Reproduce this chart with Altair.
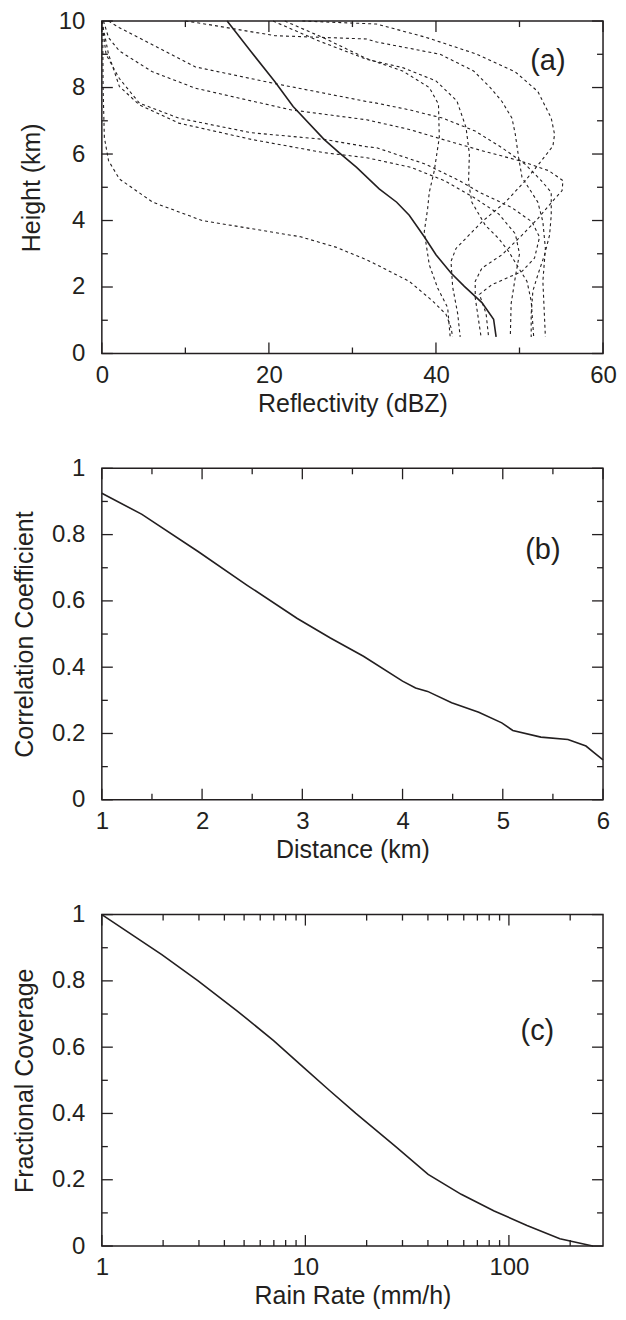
import altair as alt
import pandas as pd

FONT = "Liberation Sans"
INK = "#231f20"
W = 502
HA, HB, HC = 333, 332, 332

# ---------------- Panel (a): reflectivity profiles ----------------
solid_h = [10.0, 9.1, 8.18, 7.43, 6.44, 6.04, 5.6, 4.95, 4.55, 4.16, 3.51, 2.97, 2.42, 2.02, 1.53, 1.03, 0.5]
solid_z = [15.0, 17.8, 20.7, 22.9, 26.6, 28.4, 30.5, 33.2, 35.3, 36.8, 38.6, 40.0, 41.8, 43.4, 45.5, 46.9, 47.2]

A_h = [10.0, 9.96, 9.56, 9.46, 9.37, 9.0, 8.5, 8.0, 7.58, 7.08, 6.59, 5.89, 5.3, 4.55, 3.96, 3.16, 2.17, 0.5]
A_z = [10.0, 11.2, 20.7, 31.7, 32.9, 40.5, 44.5, 46.5, 47.9, 49.1, 49.5, 49.9, 50.3, 52.2, 52.8, 53.1, 52.8, 53.1]

B_h = [10.0, 9.5, 8.87, 8.5, 8.0, 7.5, 6.5, 5.5, 4.85, 4.35, 3.66, 2.67, 1.97, 1.38, 0.5]
B_z = [21.9, 26.5, 31.7, 36.0, 39.2, 40.3, 40.4, 39.8, 39.2, 39.0, 38.6, 39.2, 40.2, 41.4, 41.7]

B2_h = [10.0, 9.4, 8.85, 8.6, 8.2, 7.6, 6.8, 6.0, 5.15, 4.55, 3.86, 3.46, 3.07, 2.57, 2.17, 1.58, 0.5]
B2_z = [20.5, 26.0, 31.7, 36.0, 40.0, 42.5, 43.6, 44.0, 43.9, 44.3, 45.9, 47.5, 48.7, 49.9, 50.9, 51.4, 51.7]

H_h = [10.0, 9.95, 9.91, 9.51, 9.02, 8.47, 7.88, 7.08, 6.59, 6.24, 5.79, 5.2, 4.55, 3.96, 3.16, 2.77, 2.0, 1.2, 0.5]
H_z = [24.0, 29.0, 32.9, 38.8, 44.7, 49.5, 52.2, 53.8, 54.2, 54.0, 52.6, 50.7, 48.3, 45.5, 42.4, 41.8, 42.0, 42.6, 42.9]

C_h = [10.0, 9.8, 8.62, 8.12, 7.58, 7.53, 7.33, 7.08, 6.69, 6.19, 5.69, 5.2, 4.85, 4.16, 3.56, 2.97, 2.37, 1.88, 1.18, 0.5]
C_z = [0.8, 2.1, 11.2, 20.7, 31.7, 32.9, 36.8, 40.8, 44.7, 47.9, 50.7, 52.6, 53.8, 53.8, 53.6, 53.0, 52.2, 51.6, 51.4, 51.4]

D_h = [10.0, 9.5, 9.1, 8.48, 7.98, 7.33, 7.03, 6.74, 6.44, 6.1, 5.8, 5.5, 5.2, 4.9, 4.65, 4.06, 3.56, 2.97, 2.57, 2.17, 1.68, 0.5]
D_z = [0.2, 0.8, 2.1, 6.0, 11.2, 22.6, 31.7, 36.8, 40.8, 45.5, 50.0, 53.5, 55.2, 55.1, 54.2, 52.2, 50.3, 47.9, 45.5, 44.7, 44.7, 45.4]

E_h = [10.0, 9.0, 8.27, 7.53, 7.08, 6.64, 6.44, 6.22, 6.19, 5.69, 5.2, 4.85, 4.4, 3.96, 3.5, 2.87, 2.47, 2.07, 1.78, 1.2, 0.5]
E_z = [0.0, 0.5, 2.1, 4.5, 9.2, 17.9, 26.6, 31.7, 32.9, 38.8, 42.8, 45.2, 49.0, 51.5, 52.4, 51.8, 50.3, 46.7, 45.2, 46.0, 46.3]

F_h = [10.0, 9.0, 8.03, 7.48, 6.93, 6.44, 6.04, 5.89, 5.6, 5.2, 4.7, 4.2, 3.6, 3.0, 2.3, 1.5, 0.5]
F_z = [0.0, 0.8, 2.1, 4.5, 9.2, 17.9, 26.6, 31.7, 37.0, 41.0, 44.5, 47.5, 49.5, 50.0, 49.5, 49.0, 48.9]

G_h = [10.0, 8.0, 6.5, 5.8, 5.25, 4.55, 4.0, 3.51, 3.2, 2.82, 2.67, 2.17, 1.58, 1.18, 0.78, 0.5]
G_z = [0.1, 0.15, 0.3, 0.8, 2.1, 6.1, 12.0, 23.8, 28.0, 31.7, 32.9, 36.8, 39.6, 41.2, 41.8, 42.0]

# ---------------- Panel (b): correlation vs distance ----------------
dist_km = [1.0, 1.40, 1.96, 2.45, 2.95, 3.28, 3.61, 4.0, 4.13, 4.25, 4.49, 4.76, 4.99, 5.10, 5.38, 5.65, 5.83, 5.91, 6.0]
corr = [0.925, 0.861, 0.749, 0.647, 0.547, 0.488, 0.433, 0.358, 0.337, 0.327, 0.293, 0.264, 0.232, 0.209, 0.189, 0.182, 0.162, 0.142, 0.12]

# ---------------- Panel (c): fractional coverage vs rain rate ----------------
rain_rate = [1.0, 1.97, 2.96, 4.63, 6.98, 9.76, 13.1, 17.7, 27.7, 40.1, 58.3, 84.6, 122.7, 178.0, 258.0]
frac_cov = [1.0, 0.879, 0.801, 0.709, 0.620, 0.540, 0.470, 0.400, 0.301, 0.216, 0.156, 0.106, 0.062, 0.022, 0.0]

# tick values
a_x_major, a_x_minor = [0, 20, 40, 60], [10, 30, 50]
a_y_major, a_y_minor = [0, 2, 4, 6, 8, 10], [1, 3, 5, 7, 9]
b_x_major, b_x_minor = [1, 2, 3, 4, 5, 6], [1.5, 2.5, 3.5, 4.5, 5.5]
f_major, f_minor = [0, 0.2, 0.4, 0.6, 0.8, 1.0], [0.1, 0.3, 0.5, 0.7, 0.9]
c_x_major = [1, 10, 100]
c_x_minor = [2, 3, 4, 5, 6, 7, 8, 9, 20, 30, 40, 50, 60, 70, 80, 90, 200]

MAJ, MIN = 11, 6


def frame_ticks(xs, ys, xa, ya, xmaj, xmin, ymaj, ymin, ph):
    layers = []
    for vals, L in ((xmaj, MAJ), (xmin, MIN)):
        base = alt.Chart(pd.DataFrame({"v": vals})).mark_rule(color=INK, strokeWidth=1.3)
        xe = alt.X("v:Q", scale=xs, axis=xa)
        layers.append(base.encode(x=xe, y=alt.value(ph), y2=alt.value(ph - L)))
        layers.append(base.encode(x=xe, y=alt.value(0), y2=alt.value(L)))
    for vals, L in ((ymaj, MAJ), (ymin, MIN)):
        base = alt.Chart(pd.DataFrame({"v": vals})).mark_rule(color=INK, strokeWidth=1.3)
        ye = alt.Y("v:Q", scale=ys, axis=ya)
        layers.append(base.encode(y=ye, x=alt.value(0), x2=alt.value(L)))
        layers.append(base.encode(y=ye, x=alt.value(W), x2=alt.value(W - L)))
    return layers


def panel_label(xs, ys, xa, ya, xv, yv, text):
    df = pd.DataFrame({"x": [xv], "y": [yv], "t": [text]})
    return alt.Chart(df).mark_text(font=FONT, fontSize=29, color=INK).encode(
        x=alt.X("x:Q", scale=xs, axis=xa), y=alt.Y("y:Q", scale=ys, axis=ya), text="t:N")


# ---- panel (a)
xs_a = alt.Scale(domain=[0, 60], nice=False, zero=False)
ys_a = alt.Scale(domain=[0, 10], nice=False, zero=False)
xa_a = alt.Axis(values=a_x_major, title="Reflectivity (dBZ)", format="d")
ya_a = alt.Axis(values=a_y_major, title="Height (km)", format="d")

profiles = {"A": (A_h, A_z), "B": (B_h, B_z), "B2": (B2_h, B2_z), "H": (H_h, H_z),
            "C": (C_h, C_z), "D": (D_h, D_z), "E": (E_h, E_z), "F": (F_h, F_z), "G": (G_h, G_z)}
rows = []
for name, (hh, zz) in profiles.items():
    for i, (h, z) in enumerate(zip(hh, zz)):
        rows.append({"prof": name, "idx": i, "h": h, "dbz": z})
dash_df = pd.DataFrame(rows)
solid_df = pd.DataFrame({"h": solid_h, "dbz": solid_z, "idx": list(range(len(solid_h)))})

solid_a = alt.Chart(solid_df).mark_line(color=INK, strokeWidth=1.6).encode(
    x=alt.X("dbz:Q", scale=xs_a, axis=xa_a),
    y=alt.Y("h:Q", scale=ys_a, axis=ya_a),
    order="idx:Q")
dash_a = alt.Chart(dash_df).mark_line(color=INK, strokeWidth=1.1, strokeDash=[3, 3]).encode(
    x=alt.X("dbz:Q", scale=xs_a, axis=xa_a), y=alt.Y("h:Q", scale=ys_a, axis=ya_a),
    detail="prof:N", order="idx:Q")

pa = alt.layer(solid_a, dash_a, panel_label(xs_a, ys_a, xa_a, ya_a, 53.4, 8.8, "(a)"),
               *frame_ticks(xs_a, ys_a, xa_a, ya_a, a_x_major, a_x_minor, a_y_major, a_y_minor, HA)
               ).properties(width=W, height=HA)

# ---- panel (b)
xs_b = alt.Scale(domain=[1, 6], nice=False, zero=False)
ys_b = alt.Scale(domain=[0, 1], nice=False, zero=False)
xa_b = alt.Axis(values=b_x_major, title="Distance (km)", format="d")
ya_b = alt.Axis(values=f_major, title="Correlation Coefficient", format="~g")
b_df = pd.DataFrame({"d": dist_km, "c": corr})
line_b = alt.Chart(b_df).mark_line(color=INK, strokeWidth=1.6).encode(
    x=alt.X("d:Q", scale=xs_b, axis=xa_b),
    y=alt.Y("c:Q", scale=ys_b, axis=ya_b))
pb = alt.layer(line_b, panel_label(xs_b, ys_b, xa_b, ya_b, 5.4, 0.752, "(b)"),
               *frame_ticks(xs_b, ys_b, xa_b, ya_b, b_x_major, b_x_minor, f_major, f_minor, HB)
               ).properties(width=W, height=HB)

# ---- panel (c)
xs_c = alt.Scale(type="log", domain=[1, 290], nice=False)
ys_c = alt.Scale(domain=[0, 1], nice=False, zero=False)
xa_c = alt.Axis(values=c_x_major, title="Rain Rate (mm/h)", format="d")
ya_c = alt.Axis(values=f_major, title="Fractional Coverage", format="~g")
c_df = pd.DataFrame({"r": rain_rate, "f": frac_cov})
line_c = alt.Chart(c_df).mark_line(color=INK, strokeWidth=1.6).encode(
    x=alt.X("r:Q", scale=xs_c, axis=xa_c),
    y=alt.Y("f:Q", scale=ys_c, axis=ya_c))
pc = alt.layer(line_c, panel_label(xs_c, ys_c, xa_c, ya_c, 138, 0.649, "(c)"),
               *frame_ticks(xs_c, ys_c, xa_c, ya_c, c_x_major, c_x_minor, f_major, f_minor, HC)
               ).properties(width=W, height=HC)

chart = alt.vconcat(pa, pb, pc, spacing=38).properties(
    padding={"left": 3, "top": -1, "right": 0, "bottom": 0}
).configure_view(stroke=INK, strokeWidth=1.5).configure_axis(
    labelFont=FONT, titleFont=FONT, labelFontSize=24, titleFontSize=25,
    titleFontWeight="normal", labelColor=INK, titleColor=INK,
    ticks=False, domain=False, grid=False, labelFlush=False, labelOverlap=False
).configure_axisX(labelPadding=10, titlePadding=4).configure_axisY(labelPadding=17, titlePadding=14)

chart.save("out.html", embed_options={"renderer": "svg", "actions": False})
